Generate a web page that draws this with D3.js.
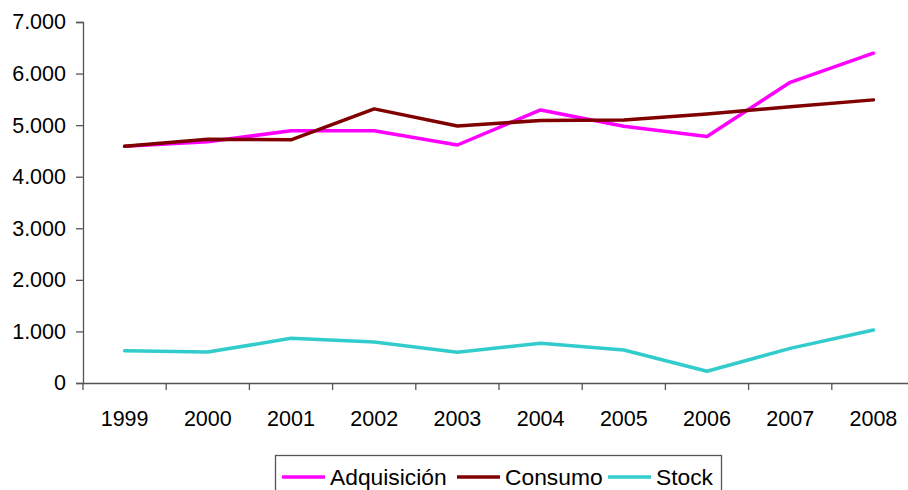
<!DOCTYPE html>
<html>
<head>
    <title>Adquisición, Consumo y Stock</title>
    <script src="https://d3js.org/d3.v7.min.js"></script>
    <style>
        body { margin: 0; background: #fff; }
        text { font-family: "Liberation Sans", Arial, sans-serif; fill: #000; }
    </style>
</head>
<body>
    <svg class="lineChart" width="908" height="490"></svg>

    <script>
// Datos
const anios = ['1999', '2000', '2001', '2002', '2003', '2004', '2005', '2006', '2007', '2008'];
const adquisicion = [4590, 4680, 4890, 4890, 4615, 5295, 4980, 4780, 5830, 6395];
const consumo = [4590, 4725, 4715, 5315, 4985, 5090, 5100, 5215, 5355, 5490];
const stock = [625, 600, 866, 795, 595, 770, 640, 227, 672, 1028];
const ticksY = [0, 1000, 2000, 3000, 4000, 5000, 6000, 7000];

const series = [
    { nombre: 'Adquisición', valores: adquisicion, color: '#ff00ff' },
    { nombre: 'Consumo', valores: consumo, color: '#800000' },
    { nombre: 'Stock', valores: stock, color: '#33cccc' }
];

function plotarGrafico() {
    const svg = d3.select('.lineChart');
    const fmt = d3.formatLocale({ decimal: ',', thousands: '.', grouping: [3], currency: ['', '€'] }).format(',');

    // Escalas
    const x = d3.scaleBand().domain(anios).range([83, 915]);
    const y = d3.scaleLinear().domain([0, 7000]).range([383, 22]);

    // Eje Y
    const ejeY = svg.append('g')
        .attr('transform', 'translate(83,0)')
        .call(d3.axisLeft(y).tickValues(ticksY).tickSize(7).tickPadding(10).tickFormat(d => fmt(d)));
    ejeY.selectAll('text').style('font-size', '21.5px');

    // Eje X
    const ejeX = svg.append('g')
        .attr('transform', 'translate(0,383)')
        .call(d3.axisBottom(x).tickSize(0).tickPadding(28));
    ejeX.selectAll('text').style('font-size', '21.5px');
    // marcas entre categorías
    ejeX.selectAll('.sep')
        .data(anios)
        .enter().append('line')
        .attr('x1', d => x(d)).attr('x2', d => x(d))
        .attr('y1', 0).attr('y2', 7)
        .attr('stroke', '#555').attr('stroke-width', 1.3);

    svg.selectAll('.domain').attr('stroke', '#555').attr('stroke-width', 1.3);
    svg.selectAll('.tick line').attr('stroke', '#555').attr('stroke-width', 1.3);

    // Líneas
    const linea = d3.line()
        .x((d, i) => x(anios[i]) + x.bandwidth() / 2)
        .y(d => y(d));

    svg.selectAll('.serie')
        .data(series)
        .enter().append('path')
        .attr('class', 'serie')
        .attr('d', d => linea(d.valores))
        .attr('fill', 'none')
        .attr('stroke', d => d.color)
        .attr('stroke-width', 3.5)
        .attr('stroke-linejoin', 'round')
        .attr('stroke-linecap', 'round');

    // Leyenda
    const leyenda = svg.append('g');
    leyenda.append('rect')
        .attr('x', 275.5).attr('y', 455.5)
        .attr('width', 446).attr('height', 50)
        .attr('fill', '#fff').attr('stroke', '#555').attr('stroke-width', 1.3);

    const posLeyenda = [282, 457, 608];
    const items = leyenda.selectAll('.item')
        .data(series)
        .enter().append('g')
        .attr('transform', (d, i) => `translate(${posLeyenda[i]},477)`);
    items.append('line')
        .attr('x1', 0).attr('x2', 43)
        .attr('stroke', d => d.color).attr('stroke-width', 3.5);
    items.append('text')
        .attr('x', 48).attr('y', 7.5)
        .style('font-size', '22.8px')
        .text(d => d.nombre);
}

plotarGrafico();
    </script>
</body>
</html>
